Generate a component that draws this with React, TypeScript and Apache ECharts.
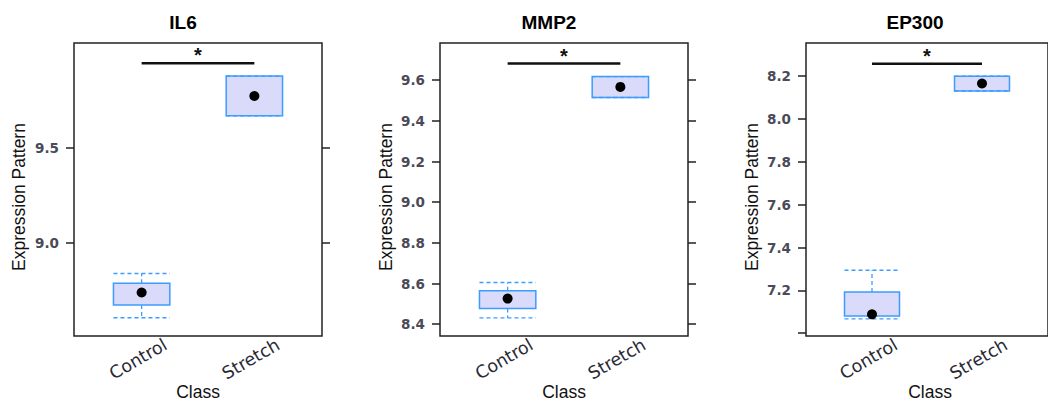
import React, { useEffect, useRef } from 'react';
import * as echarts from 'echarts';

// ---------- data ----------
const genes = ['IL6', 'MMP2', 'EP300'];
const classes = ['Control', 'Stretch'];

const il6Lower = [8.607, 9.670];
const il6Q1 = [8.674, 9.670];
const il6Median = [8.740, 9.774];
const il6Q3 = [8.788, 9.879];
const il6Upper = [8.840, 9.879];
const il6Sig = 9.946;

const mmp2Lower = [8.431, 9.515];
const mmp2Q1 = [8.477, 9.515];
const mmp2Median = [8.526, 9.567];
const mmp2Q3 = [8.564, 9.618];
const mmp2Upper = [8.605, 9.618];
const mmp2Sig = 9.682;

const ep300Lower = [7.067, 8.131];
const ep300Q1 = [7.080, 8.131];
const ep300Median = [7.088, 8.166];
const ep300Q3 = [7.192, 8.200];
const ep300Upper = [7.294, 8.200];
const ep300Sig = 8.258;

const il6Range = [8.511, 10.053];
const mmp2Range = [8.342, 9.783];
const ep300Range = [6.987, 8.355];

const il6Ticks = [9.0, 9.5];
const il6TickLabels = [9.0, 9.5];
const mmp2Ticks = [8.4, 8.6, 8.8, 9.0, 9.2, 9.4, 9.6];
const mmp2TickLabels = [8.4, 8.6, 8.8, 9.0, 9.2, 9.4, 9.6];
const ep300Ticks = [7.0, 7.2, 7.4, 7.6, 7.8, 8.0, 8.2];
const ep300TickLabels = [7.2, 7.4, 7.6, 7.8, 8.0, 8.2];

const sigMark = '*';
const xTitle = 'Class';
const yTitle = 'Expression Pattern';

// ---------- styling / layout ----------
const panels = [
  { gene: genes[0], lower: il6Lower, q1: il6Q1, median: il6Median, q3: il6Q3, upper: il6Upper, sig: il6Sig, range: il6Range, ticks: il6Ticks, tickLabels: il6TickLabels, left: 74, titleX: 183, yLabX: 19 },
  { gene: genes[1], lower: mmp2Lower, q1: mmp2Q1, median: mmp2Median, q3: mmp2Q3, upper: mmp2Upper, sig: mmp2Sig, range: mmp2Range, ticks: mmp2Ticks, tickLabels: mmp2TickLabels, left: 440, titleX: 549, yLabX: 386 },
  { gene: genes[2], lower: ep300Lower, q1: ep300Q1, median: ep300Median, q3: ep300Q3, upper: ep300Upper, sig: ep300Sig, range: ep300Range, ticks: ep300Ticks, tickLabels: ep300TickLabels, left: 806, titleX: 915, yLabX: 752 },
];
const PANEL_TOP = 43;
const PANEL_W = 248;
const PANEL_H = 293;
const BOX_WIDTH = 0.5;
const BOX_FILL = '#dadafa';
const BOX_STROKE = '#3c9cff';
const FRAME = '#222';
const TICK_FONT = 'DejaVu Sans';
const TEXT_FONT = 'Liberation Sans, Arial, sans-serif';

export default function App() {
  const ref = useRef<HTMLDivElement>(null);

  useEffect(() => {
    document.body.style.margin = '0';
    if (!ref.current) return;
    const chart = echarts.init(ref.current, null, { renderer: 'svg' });

    const grid: any[] = [];
    const xAxis: any[] = [];
    const yAxis: any[] = [];
    const series: any[] = [];
    const graphic: any[] = [];

    panels.forEach((p, i) => {
      grid.push({
        left: p.left, top: PANEL_TOP, width: PANEL_W, height: PANEL_H,
        show: true, borderColor: FRAME, borderWidth: 1.5, backgroundColor: 'transparent',
      });
      xAxis.push({
        type: 'value', gridIndex: i, min: 0.4, max: 2.6,
        axisLine: { show: false }, axisTick: { show: false }, splitLine: { show: false },
        axisLabel: {
          customValues: classes.map((_, k) => k + 1),
          formatter: (v: number) => classes[Math.round(v) - 1] ?? '',
          rotate: 30, align: 'center', verticalAlign: 'middle', margin: 21,
          padding: [0, 8, 0, 0],
          fontFamily: TICK_FONT, fontSize: 17.5, color: '#2a2a35',
        },
      });
      const common = {
        type: 'value', gridIndex: i, min: p.range[0], max: p.range[1],
        axisLine: { show: false }, splitLine: { show: false },
        axisTick: { show: true, inside: false, length: 8, customValues: p.ticks, lineStyle: { color: FRAME, width: 1.5 } },
      };
      yAxis.push({
        ...common, position: 'left',
        axisLabel: {
          customValues: p.tickLabels, formatter: (v: number) => v.toFixed(1),
          margin: 15, fontFamily: TICK_FONT, fontSize: 13.5, fontWeight: 'bold', color: '#4a4a58',
        },
      });
      yAxis.push({ ...common, position: 'right', axisLabel: { show: false } });

      const boxData = classes.map((_, k) => [k + 1, p.q1[k], p.q3[k], p.lower[k], p.upper[k]]);
      series.push({
        type: 'custom', xAxisIndex: i, yAxisIndex: 2 * i,
        encode: { x: 0, y: [1, 2, 3, 4] },
        data: boxData,
        renderItem: (params: any, api: any) => {
          const x = api.value(0);
          const half = api.size([BOX_WIDTH, 0])[0] / 2;
          const [cx, yQ1] = api.coord([x, api.value(1)]);
          const yQ3 = api.coord([x, api.value(2)])[1];
          const yLo = api.coord([x, api.value(3)])[1];
          const yHi = api.coord([x, api.value(4)])[1];
          const dash = { stroke: BOX_STROKE, lineWidth: 1.3, lineDash: [4, 3] };
          return {
            type: 'group',
            children: [
              { type: 'line', shape: { x1: cx, y1: yQ3, x2: cx, y2: yHi }, style: dash },
              { type: 'line', shape: { x1: cx, y1: yQ1, x2: cx, y2: yLo }, style: dash },
              { type: 'rect', shape: { x: cx - half, y: yQ3, width: 2 * half, height: yQ1 - yQ3 }, style: { fill: BOX_FILL, stroke: BOX_STROKE, lineWidth: 1.5 } },
              { type: 'line', shape: { x1: cx - half, y1: yHi, x2: cx + half, y2: yHi }, style: dash },
              { type: 'line', shape: { x1: cx - half, y1: yLo, x2: cx + half, y2: yLo }, style: dash },
            ],
          };
        },
        z: 2,
      });
      series.push({
        type: 'scatter', xAxisIndex: i, yAxisIndex: 2 * i,
        data: classes.map((_, k) => [k + 1, p.median[k]]),
        symbol: 'circle', symbolSize: 10, itemStyle: { color: '#000', opacity: 1 }, z: 3,
      });
      series.push({
        type: 'line', xAxisIndex: i, yAxisIndex: 2 * i,
        data: [[1, p.sig], [2, p.sig]], showSymbol: false, symbol: 'none',
        lineStyle: { color: '#111', width: 2.5 }, z: 3,
      });
      series.push({
        type: 'scatter', xAxisIndex: i, yAxisIndex: 2 * i,
        data: [[1.5, p.sig]], symbolSize: 0, itemStyle: { opacity: 1 },
        label: { show: true, formatter: sigMark, position: 'top', distance: -2, fontFamily: TEXT_FONT, fontSize: 20, fontWeight: 'bold', color: '#111' },
        z: 3,
      });

      graphic.push({
        type: 'text', x: p.titleX, y: 22,
        style: { text: p.gene, align: 'center', verticalAlign: 'middle', font: `bold 19px ${TEXT_FONT}`, fill: '#000' },
      });
      graphic.push({
        type: 'text', x: p.yLabX, y: 197, rotation: Math.PI / 2,
        style: { text: yTitle, align: 'center', verticalAlign: 'middle', font: `17.5px ${TEXT_FONT}`, fill: '#111' },
      });
      graphic.push({
        type: 'text', x: p.left + PANEL_W / 2, y: 392,
        style: { text: xTitle, align: 'center', verticalAlign: 'middle', font: `17.5px ${TEXT_FONT}`, fill: '#111' },
      });
    });

    chart.setOption({
      animation: false,
      backgroundColor: '#fff',
      grid, xAxis, yAxis, series, graphic,
    });
    return () => chart.dispose();
  }, []);

  return <div ref={ref} style={{ width: 1048, height: 401 }} />;
}
